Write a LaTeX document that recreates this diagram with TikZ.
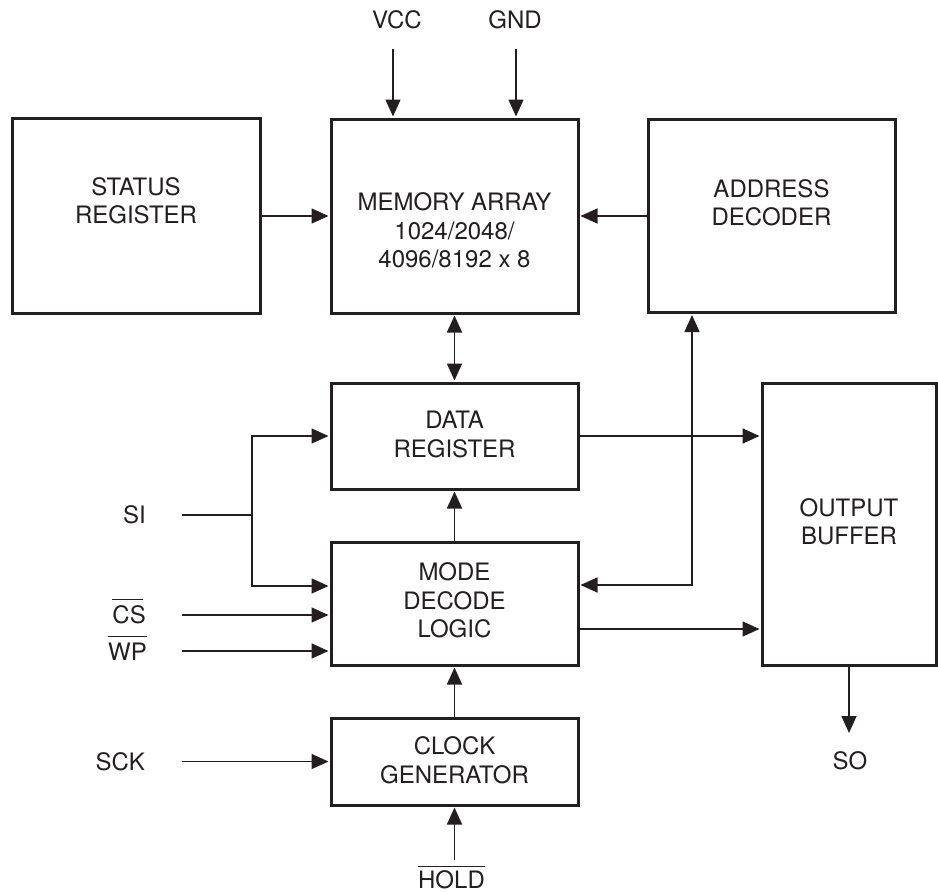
\documentclass[tikz,border=0pt]{standalone}
\usepackage{fontspec}
\setmainfont{TeX Gyre Heros}
\usetikzlibrary{arrows.meta,calc}
\definecolor{ink}{RGB}{35,31,32}
\begin{document}
\begin{tikzpicture}[x=1pt,y=-1pt,
  blk/.style={draw=ink,line width=3pt,inner sep=0pt},
  lbl/.style={inner sep=0pt,align=center,text=ink,font=\fontsize{24}{28.5}\selectfont},
  wire/.style={draw=ink,line width=1.6pt},
  arr/.style={wire,-{Triangle[length=17pt,width=15pt]},shorten >=1pt},
  barr/.style={wire,{Triangle[length=17pt,width=15pt]}-{Triangle[length=17pt,width=15pt]},shorten >=1pt,shorten <=1pt},
  ovl/.style={draw=ink,line width=1.6pt}]
\useasboundingbox (0,0) rectangle (938,892);

% blocks
\node[blk,minimum width=248pt,minimum height=195pt] (status) at (136,216) {};
\node[blk,minimum width=247pt,minimum height=194pt] (memory) at (454.5,216) {};
\node[blk,minimum width=247pt,minimum height=193pt] (addr) at (771.5,216) {};
\node[blk,minimum width=247pt,minimum height=106pt] (data) at (454.5,436) {};
\node[blk,minimum width=247pt,minimum height=123pt] (mode) at (454.5,603.5) {};
\node[blk,minimum width=247pt,minimum height=87pt] (clock) at (454.5,761.5) {};
\node[blk,minimum width=174pt,minimum height=282pt] (out) at (849,524) {};

% block texts
\node[lbl] (statustxt) at (136,200.5) {STATUS\\REGISTER};
\node[lbl] (memtxt) at (454.5,230.5) {MEMORY ARRAY\\1024/2048/\\4096/8192 x 8};
\node[lbl] (addrtxt) at (771.5,202.5) {ADDRESS\\DECODER};
\node[lbl] (datatxt) at (454.5,434.5) {DATA\\REGISTER};
\node[lbl] (modetxt) at (454.5,600.5) {MODE\\DECODE\\LOGIC};
\node[lbl] (clocktxt) at (454.5,760) {CLOCK\\GENERATOR};
\node[lbl] (outtxt) at (849,521.5) {OUTPUT\\BUFFER};

% pin labels
\node[lbl,anchor=base east] (si) at (146,523.6) {SI};
\node[lbl,anchor=base east] (cs) at (146,623.6) {CS};
\node[lbl,anchor=base east] (wp) at (147,660.6) {WP};
\node[lbl,anchor=base east] (sck) at (145,770.6) {SCK};
\node[lbl,anchor=base] (vcc) at (397,28.6) {VCC};
\node[lbl,anchor=base] (gnd) at (515,28.6) {GND};
\node[lbl,anchor=base] (hold) at (451.5,888) {HOLD};
\node[lbl,anchor=base] (so) at (850,769.6) {SO};

% overlines
\draw[ovl] ($(cs.north west)+(0,-6)$) -- ($(cs.north east)+(-3,-6)$);
\draw[ovl] ($(wp.north west)+(0,-6.5)$) -- ($(wp.north east)+(0,-6.5)$);
\draw[ovl] ($(hold.north west)+(0,-3.5)$) -- ($(hold.north east)+(0,-3.5)$);

% connectors
\coordinate (vccin) at (393,49);
\coordinate (gndin) at (516,49);
\draw[arr] (vccin) -- (vccin |- memory.north);
\draw[arr] (gndin) -- (gndin |- memory.north);
\draw[arr] (status.east) -- (memory.west);
\draw[arr] (addr.west) -- (memory.east);
\draw[barr] (memory.south) -- (data.north);
\draw[arr] (mode.north) -- (data.south);
\draw[arr] (clock.north) -- (mode.south);
\coordinate (holdin) at (454.5,860);
\draw[arr] (holdin) -- (clock.south);
\draw[arr] (data.east) -- (data.east -| out.west);
\coordinate (m2o) at ($(mode.east)+(0,25.5)$);
\draw[arr] (m2o) -- (m2o -| out.west);
\coordinate (a2m) at ($(mode.east)+(0,-18.5)$);
\coordinate (abus) at ($(addr.south)+(-79.5,0)$);
\draw[barr] (a2m) -| (abus);
\coordinate (soout) at (849,734);
\draw[arr] (out.south) -- (soout);
\coordinate (siin) at (182,515);
\coordinate (sij) at (252,515);
\draw[wire] (siin) -- (sij);
\draw[arr] (sij) |- (data.west);
\draw[arr] (sij) |- ($(mode.west)+(0,-17.5)$);
\coordinate (csin) at (182,615);
\draw[arr] (csin) -- (csin -| mode.west);
\coordinate (wpin) at (182,651);
\draw[arr] (wpin) -- (wpin -| mode.west);
\coordinate (sckin) at (182,761.5);
\draw[arr] (sckin) -- (sckin -| clock.west);
\end{tikzpicture}
\end{document}
